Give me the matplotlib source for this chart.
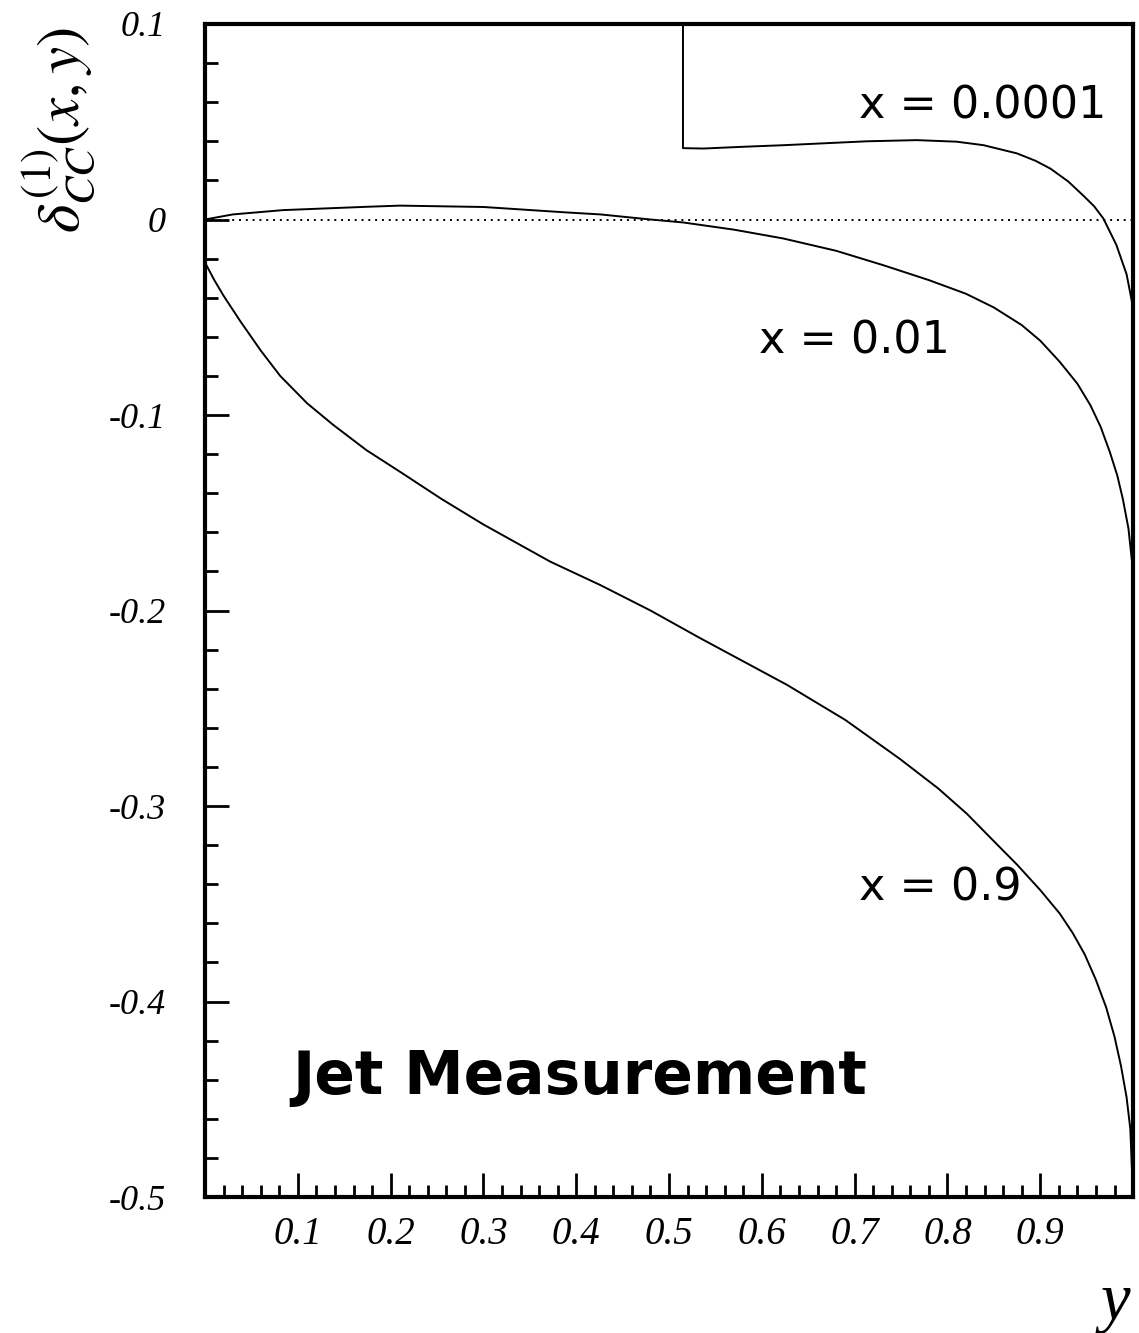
import numpy as np
import matplotlib
matplotlib.use("Agg")
import matplotlib.pyplot as plt
from matplotlib.ticker import MultipleLocator, FixedLocator

plt.rcParams['mathtext.fontset'] = 'stix'

# curve x = 0.9
y_09 = [0.0, 0.01, 0.02, 0.038, 0.06, 0.081, 0.11, 0.138, 0.174, 0.210, 0.255, 0.300, 0.372,
        0.426, 0.48, 0.533, 0.58, 0.627, 0.69, 0.749, 0.79, 0.821, 0.85, 0.875, 0.90, 0.921,
        0.935, 0.948, 0.96, 0.971, 0.98, 0.987, 0.993, 0.997, 1.0]
d_09 = [-0.022, -0.031, -0.039, -0.052, -0.067, -0.080, -0.094, -0.105, -0.118, -0.129, -0.143, -0.156, -0.175,
        -0.187, -0.200, -0.214, -0.226, -0.238, -0.256, -0.276, -0.291, -0.304, -0.318, -0.330, -0.343, -0.355,
        -0.365, -0.376, -0.389, -0.403, -0.418, -0.433, -0.449, -0.465, -0.5]

# curve x = 0.01
y_001 = [0.0, 0.03, 0.084, 0.174, 0.21, 0.30, 0.39, 0.426, 0.48, 0.515, 0.57, 0.623, 0.68, 0.731,
         0.78, 0.82, 0.85, 0.88, 0.90, 0.921, 0.94, 0.954, 0.965, 0.975, 0.983, 0.989, 0.995, 1.0]
d_001 = [0.0, 0.0026, 0.0048, 0.0065, 0.0071, 0.0064, 0.0036, 0.0026, 0.0, -0.0015, -0.0052, -0.0097, -0.0160, -0.0234,
         -0.031, -0.038, -0.045, -0.054, -0.062, -0.0728, -0.084, -0.095, -0.106, -0.119, -0.131, -0.143, -0.158, -0.18]

# curve x = 0.0001 (off scale above y ~ 0.515)
y_0001 = [0.515, 0.515, 0.537, 0.58, 0.623, 0.713, 0.767, 0.81, 0.839, 0.875, 0.895, 0.911, 0.93,
          0.946, 0.958, 0.968, 0.982, 0.993, 1.0]
d_0001 = [0.2, 0.0365, 0.0363, 0.0372, 0.038, 0.040, 0.0406, 0.0398, 0.038, 0.0338, 0.030, 0.026, 0.0195,
          0.0124, 0.0068, 0.0005, -0.013, -0.028, -0.045]

curves = [(y_0001, d_0001), (y_001, d_001), (y_09, d_09)]
labels = ["x = 0.0001", "x = 0.01", "x = 0.9"]
label_pos = [(0.838, 0.0578), (0.700, -0.0624), (0.792, -0.342)]

xtick_vals = [0.1, 0.2, 0.3, 0.4, 0.5, 0.6, 0.7, 0.8, 0.9]
ytick_vals = [0.1, 0.0, -0.1, -0.2, -0.3, -0.4, -0.5]
ytick_text = ["0.1", "0", "-0.1", "-0.2", "-0.3", "-0.4", "-0.5"]

fig = plt.figure(figsize=(11.39, 13.33), dpi=100)
ax = fig.add_axes([0.180, 0.102, 0.8148, 0.880])

ax.axhline(0, color='black', lw=1.4, ls=(0, (1, 2.5)))
for (xs, ds) in curves:
    ax.plot(xs, ds, color='black', lw=1.4)

for lab, (px, py) in zip(labels, label_pos):
    ax.text(px, py, lab, fontsize=32, ha='center', va='center', family='DejaVu Sans')

ax.text(0.404, -0.439, "Jet Measurement", fontsize=43, fontweight='bold',
        ha='center', va='center', family='DejaVu Sans')

ax.set_xlim(0, 1)
ax.set_ylim(-0.5, 0.1)

ax.xaxis.set_major_locator(FixedLocator(xtick_vals))
ax.xaxis.set_minor_locator(MultipleLocator(0.02))
ax.yaxis.set_major_locator(FixedLocator(ytick_vals))
ax.yaxis.set_minor_locator(MultipleLocator(0.02))
ax.set_yticklabels(ytick_text)

for sp in ax.spines.values():
    sp.set_linewidth(3)
ax.tick_params(which='both', direction='in', top=False, right=False, width=2)
ax.tick_params(which='major', length=17)
ax.tick_params(which='minor', length=9)
ax.tick_params(axis='y', which='major', pad=28)
ax.tick_params(axis='x', which='major', pad=14)
for t in ax.get_xticklabels():
    t.set_fontfamily('Liberation Serif')
    t.set_fontstyle('italic')
    t.set_fontsize(28)
for t in ax.get_yticklabels():
    t.set_fontfamily('Liberation Serif')
    t.set_fontstyle('italic')
    t.set_fontsize(26)

fig.text(0.052, 0.9025, r"$\delta^{(1)}_{CC}(x,y)$", rotation=90, fontsize=44,
         ha='center', va='center')
fig.text(0.979, 0.022, "y", fontsize=48, fontstyle='italic', family='Liberation Serif',
         ha='center', va='center')

fig.savefig("out.png", dpi=100)
